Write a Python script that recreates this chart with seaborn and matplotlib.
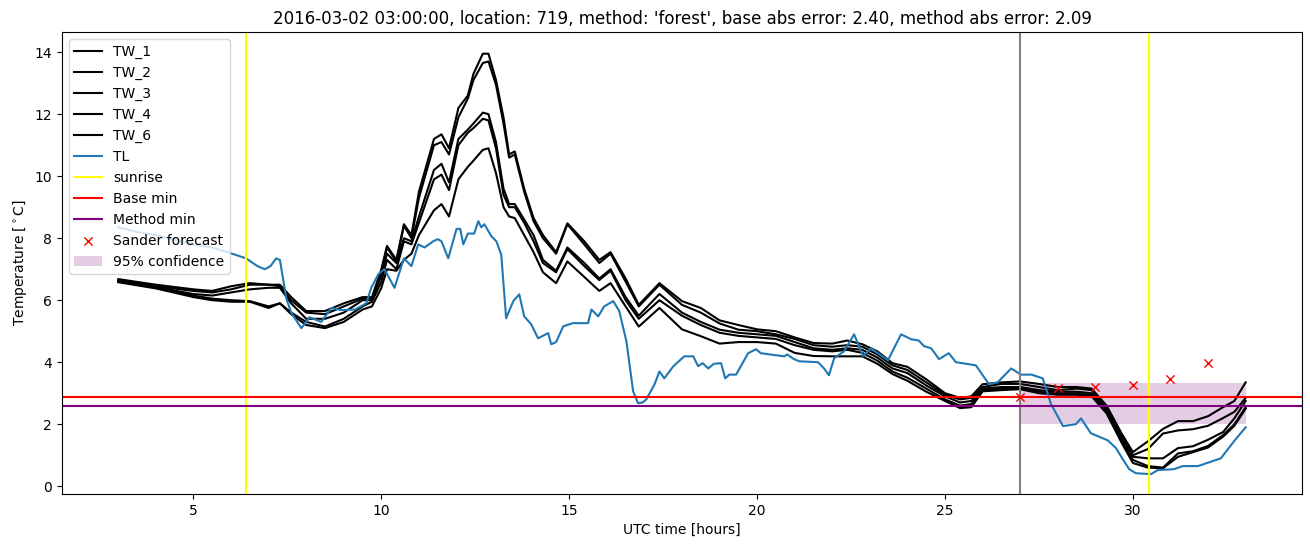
import numpy as np
import pandas as pd
import matplotlib
matplotlib.use("Agg")
import matplotlib.pyplot as plt
import seaborn as sns

# ---------------- data ----------------
tw_hours = [3.0, 4.0, 5.0, 5.5, 6.0, 6.5, 7.0, 7.3, 7.6, 8.0, 8.5, 9.0, 9.5, 9.75,
            10.0, 10.15, 10.4, 10.6, 10.8, 11.0, 11.4, 11.6, 11.8, 12.05, 12.3, 12.45,
            12.7, 12.85, 13.05, 13.25, 13.4, 13.55, 13.8, 14.05, 14.3, 14.65, 14.95,
            15.4, 15.8, 16.1, 16.5, 16.85, 17.4, 18.0, 18.5, 19.0, 19.5, 20.0, 20.5,
            21.0, 21.5, 22.0, 22.4, 22.8, 23.2, 23.6, 24.0, 24.5, 25.0, 25.4, 25.7,
            26.0, 26.5, 27.0, 27.5, 28.0, 28.5, 28.9, 29.3, 29.7, 30.0, 30.4, 30.8,
            31.2, 31.6, 32.0, 32.4, 32.7, 33.0]

tw_1 = [6.68, 6.50, 6.35, 6.30, 6.45, 6.55, 6.50, 6.50, 6.10, 5.65, 5.65, 5.90, 6.10, 6.10,
        7.00, 7.75, 7.30, 8.45, 8.10, 9.50, 11.20, 11.35, 10.90, 12.20, 12.60, 13.30,
        13.95, 13.95, 13.10, 11.90, 10.70, 10.80, 9.60, 8.65, 8.10, 7.55, 8.48,
        7.90, 7.30, 7.55, 6.70, 5.85, 6.55, 5.97, 5.75, 5.35, 5.20, 5.06, 5.00,
        4.80, 4.62, 4.60, 4.70, 4.58, 4.35, 3.97, 3.85, 3.45, 3.00, 2.85, 2.90,
        3.29, 3.35, 3.38, 3.30, 3.20, 3.20, 3.15, 2.60, 1.70, 1.10, 1.45, 1.85,
        2.10, 2.10, 2.26, 2.55, 2.75, 3.35]
tw_2 = [6.65, 6.45, 6.30, 6.25, 6.35, 6.50, 6.50, 6.45, 6.00, 5.60, 5.55, 5.80, 6.05, 6.05,
        6.95, 7.70, 7.25, 8.40, 8.00, 9.30, 11.00, 11.10, 10.70, 11.90, 12.50, 13.10,
        13.65, 13.70, 12.95, 11.70, 10.60, 10.70, 9.50, 8.55, 8.00, 7.50, 8.45,
        7.80, 7.20, 7.50, 6.60, 5.80, 6.50, 5.85, 5.60, 5.25, 5.05, 5.00, 4.90,
        4.75, 4.55, 4.50, 4.55, 4.50, 4.25, 3.90, 3.75, 3.35, 2.95, 2.80, 2.85,
        3.20, 3.30, 3.30, 3.20, 3.10, 3.15, 3.10, 2.50, 1.60, 1.00, 1.20, 1.70,
        1.80, 1.84, 1.95, 2.20, 2.40, 2.85]
tw_3 = [6.62, 6.42, 6.20, 6.15, 6.25, 6.35, 6.40, 6.40, 5.90, 5.40, 5.40, 5.60, 6.00, 6.00,
        6.80, 7.50, 7.20, 8.00, 7.90, 8.70, 10.20, 10.40, 9.80, 11.20, 11.50, 11.70,
        12.05, 12.00, 11.10, 9.60, 9.10, 9.10, 8.60, 8.10, 7.30, 6.95, 7.70,
        7.20, 6.70, 7.00, 6.10, 5.50, 6.20, 5.60, 5.30, 5.05, 4.95, 4.90, 4.85,
        4.65, 4.45, 4.40, 4.45, 4.40, 4.15, 3.80, 3.65, 3.25, 2.90, 2.70, 2.75,
        3.15, 3.20, 3.20, 3.10, 3.05, 3.05, 3.00, 2.45, 1.50, 0.95, 0.90, 0.90,
        1.23, 1.29, 1.50, 1.75, 2.19, 2.75]
tw_4 = [6.60, 6.40, 6.15, 6.05, 6.00, 5.97, 5.80, 5.90, 5.60, 5.30, 5.15, 5.40, 5.80, 5.95,
        6.60, 7.30, 7.00, 7.90, 7.80, 8.50, 9.90, 10.05, 9.55, 11.00, 11.40, 11.55,
        11.85, 11.80, 10.90, 9.40, 9.00, 9.00, 8.50, 7.90, 7.20, 6.90, 7.65,
        7.10, 6.65, 6.95, 6.00, 5.40, 6.00, 5.50, 5.20, 4.95, 4.85, 4.80, 4.75,
        4.55, 4.40, 4.35, 4.40, 4.30, 4.05, 3.70, 3.50, 3.15, 2.80, 2.60, 2.65,
        3.10, 3.15, 3.15, 3.05, 3.00, 3.00, 2.95, 2.40, 1.45, 0.85, 0.65, 0.60,
        1.06, 1.13, 1.30, 1.65, 2.00, 2.55]
tw_6 = [6.58, 6.38, 6.10, 6.00, 5.95, 5.95, 5.75, 5.90, 5.55, 5.20, 5.10, 5.30, 5.70, 5.80,
        6.40, 7.00, 6.95, 7.30, 7.50, 8.10, 8.90, 9.10, 8.70, 9.90, 10.30, 10.50,
        10.85, 10.90, 10.10, 9.00, 8.70, 8.65, 8.10, 7.55, 6.90, 6.55, 7.25,
        6.75, 6.30, 6.55, 5.80, 5.15, 5.75, 5.06, 4.84, 4.60, 4.65, 4.65, 4.60,
        4.30, 4.20, 4.19, 4.19, 4.19, 3.95, 3.62, 3.40, 3.05, 2.75, 2.52, 2.55,
        3.06, 3.10, 3.13, 3.00, 2.95, 2.95, 2.90, 2.35, 1.40, 0.75, 0.60, 0.58,
        0.95, 1.10, 1.25, 1.60, 1.95, 2.50]

tl_hours = [3.0, 3.5, 4.0, 4.5, 5.0, 5.5, 5.9, 6.4, 6.7, 6.9, 7.05, 7.2, 7.3, 7.47, 7.6,
            7.87, 8.09, 8.4, 8.67, 8.94, 9.3, 9.6, 9.73, 9.92, 10.08, 10.35, 10.6, 10.8,
            10.98, 11.15, 11.38, 11.5, 11.6, 11.78, 12.0, 12.1, 12.18, 12.3, 12.47, 12.58,
            12.66, 12.74, 12.93, 13.06, 13.19, 13.32, 13.51, 13.67, 13.8, 13.99, 14.17,
            14.44, 14.52, 14.65, 14.84, 15.1, 15.5, 15.59, 15.77, 15.93, 16.17, 16.33,
            16.52, 16.7, 16.83, 16.95, 17.05, 17.27, 17.4, 17.53, 17.77, 18.06, 18.3,
            18.43, 18.55, 18.7, 18.85, 19.04, 19.15, 19.26, 19.44, 19.76, 19.97, 20.1,
            20.72, 20.8, 20.98, 21.12, 21.62, 21.78, 21.91, 22.05, 22.31, 22.58, 22.82,
            23.03, 23.48, 23.83, 24.1, 24.3, 24.44, 24.63, 24.84, 25.1, 25.29, 25.82,
            26.17, 26.4, 26.76, 27.02, 27.3, 27.6, 27.82, 28.14, 28.48, 28.62, 28.88,
            29.33, 29.55, 29.68, 29.9, 30.08, 30.48, 30.66, 31.09, 31.33, 31.73, 32.34,
            32.69, 33.0]
tl = [8.35, 8.2, 8.1, 7.95, 7.8, 7.7, 7.55, 7.35, 7.1, 7.0, 7.1, 7.35, 7.3, 6.06, 5.6,
      5.1, 5.45, 5.3, 5.75, 5.68, 5.7, 5.9, 6.4, 6.84, 7.0, 6.4, 7.35, 7.1,
      7.8, 7.7, 7.9, 7.97, 7.9, 7.35, 8.3, 8.3, 7.8, 8.15, 8.15, 8.55,
      8.35, 8.45, 8.06, 7.9, 7.47, 5.42, 5.97, 6.19, 5.48, 5.22, 4.77,
      4.94, 4.58, 4.65, 5.16, 5.26, 5.26, 5.7, 5.48, 5.8, 5.97, 5.65,
      4.68, 3.06, 2.68, 2.7, 2.8, 3.29, 3.7, 3.48, 3.87, 4.19, 4.19,
      3.87, 3.97, 3.8, 3.95, 3.97, 3.48, 3.6, 3.6, 4.29, 4.42, 4.29,
      4.19, 4.25, 4.1, 4.03, 4.0, 3.8, 3.58, 4.13, 4.35, 4.9, 4.2,
      4.45, 4.06, 4.9, 4.74, 4.7, 4.52, 4.45, 4.1, 4.29, 4.0, 3.9,
      3.29, 3.35, 3.8, 3.6, 3.6, 3.48, 2.65, 1.94, 2.0, 2.19, 1.71,
      1.48, 1.23, 0.97, 0.55, 0.42, 0.39, 0.52, 0.55, 0.65, 0.65, 0.9,
      1.45, 1.9]

sunrise_hours = [6.4, 30.43]
forecast_start = 27.0
base_min = 2.87
method_min = 2.58
sander_hours = [27, 28, 29, 30, 31, 32]
sander_values = [2.87, 3.16, 3.19, 3.26, 3.45, 3.97]
conf_hours = [27.0, 33.0]
conf_low = [2.0, 2.0]
conf_high = [3.32, 3.32]

title = ("2016-03-02 03:00:00, location: 719, method: 'forest', "
         "base abs error: 2.40, method abs error: 2.09")

# ---------------- plot ----------------
fig = plt.figure(figsize=(13.1, 5.47), dpi=100)
ax = fig.add_axes([0.0473, 0.0969, 0.9466, 0.8446])

tw_series = {"TW_1": tw_1, "TW_2": tw_2, "TW_3": tw_3, "TW_4": tw_4, "TW_6": tw_6}
for name, vals in tw_series.items():
    sns.lineplot(x=tw_hours, y=vals, color="black", label=name, ax=ax,
                 estimator=None, sort=False, linewidth=1.5)
sns.lineplot(x=tl_hours, y=tl, color="tab:blue", label="TL", ax=ax,
             estimator=None, sort=False, linewidth=1.5)

for i, h in enumerate(sunrise_hours):
    ax.axvline(h, color="yellow", label="sunrise" if i == 0 else None)
ax.axvline(forecast_start, color="gray")
ax.axhline(base_min, color="red", label="Base min")
ax.axhline(method_min, color="purple", label="Method min")

sns.scatterplot(x=sander_hours, y=sander_values, marker="x", color="red", s=36,
                linewidth=1.0, label="Sander forecast", ax=ax, zorder=3)
ax.fill_between(conf_hours, conf_low, conf_high, color="purple", alpha=0.2,
                linewidth=0, label="95% confidence")

ax.set_xlim(1.5, 34.5)
ax.set_ylim(-0.25, 14.65)
ax.set_xticks([5, 10, 15, 20, 25, 30])
ax.set_yticks([0, 2, 4, 6, 8, 10, 12, 14])
ax.set_xlabel("UTC time [hours]")
ax.set_ylabel("Temperature [$^\\circ$C]")
ax.set_title(title)
ax.legend(loc="upper left")

fig.savefig("out.png", dpi=100)
